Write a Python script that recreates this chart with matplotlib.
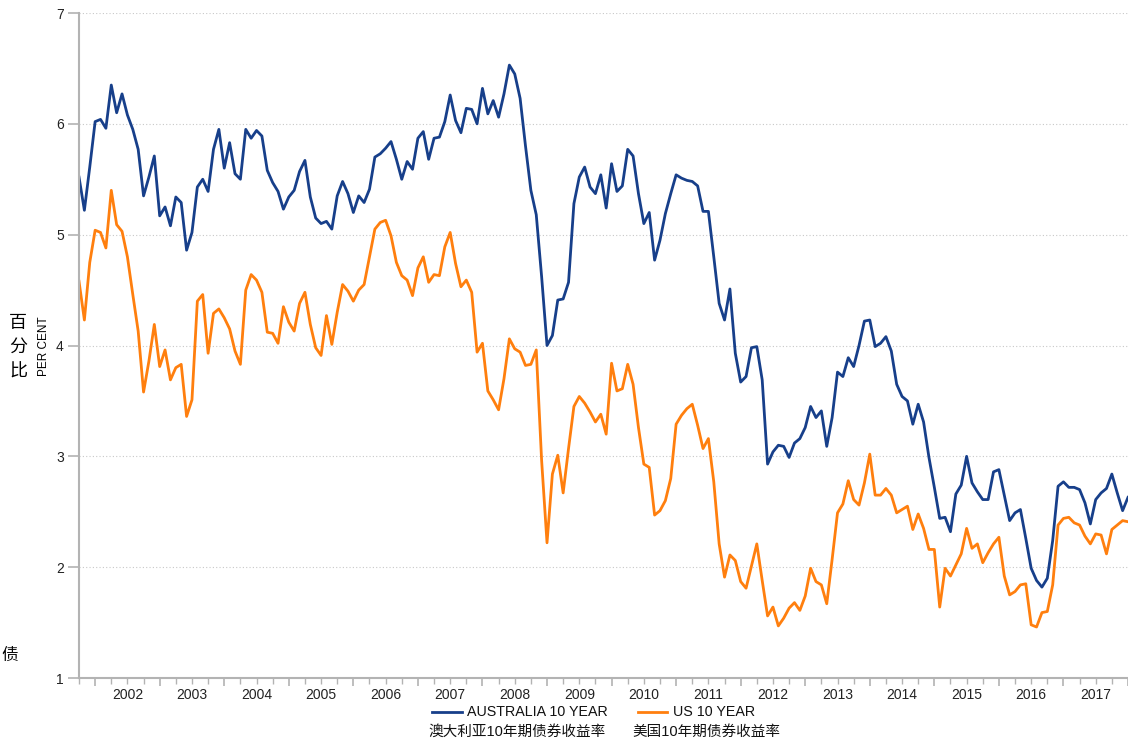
import matplotlib
matplotlib.use("Agg")
import matplotlib.pyplot as plt
import numpy as np
from matplotlib.lines import Line2D
from matplotlib.ticker import FixedLocator, FuncFormatter

plt.rcParams['font.family'] = ['Liberation Sans', 'Noto Sans CJK SC', 'DejaVu Sans']

# monthly 10 year bond yields, Oct 2001 onwards (per cent)
start = 2001.75
aus = [5.52, 5.22, 5.61, 6.02, 6.04, 5.96, 6.35, 6.10, 6.27, 6.08,
       5.95, 5.77, 5.35, 5.52, 5.71, 5.17, 5.25, 5.08, 5.34, 5.29,
       4.86, 5.02, 5.43, 5.50, 5.39, 5.77, 5.95, 5.60, 5.83, 5.55,
       5.50, 5.95, 5.87, 5.94, 5.89, 5.58, 5.47, 5.39, 5.23, 5.34,
       5.40, 5.57, 5.67, 5.34, 5.15, 5.10, 5.12, 5.05, 5.35, 5.48,
       5.37, 5.20, 5.35, 5.29, 5.41, 5.70, 5.73, 5.78, 5.84, 5.68,
       5.50, 5.66, 5.59, 5.87, 5.93, 5.68, 5.87, 5.88, 6.02, 6.26,
       6.03, 5.92, 6.14, 6.13, 6.00, 6.32, 6.09, 6.21, 6.06, 6.27,
       6.53, 6.45, 6.23, 5.80, 5.40, 5.18, 4.62, 4.00, 4.09, 4.41,
       4.42, 4.57, 5.28, 5.52, 5.61, 5.43, 5.37, 5.54, 5.24, 5.64,
       5.39, 5.44, 5.77, 5.71, 5.37, 5.10, 5.20, 4.77, 4.95, 5.19,
       5.37, 5.54, 5.51, 5.49, 5.48, 5.44, 5.21, 5.21, 4.80, 4.38,
       4.23, 4.51, 3.93, 3.67, 3.72, 3.98, 3.99, 3.69, 2.93, 3.04,
       3.10, 3.09, 2.99, 3.12, 3.16, 3.26, 3.45, 3.35, 3.41, 3.09,
       3.35, 3.76, 3.72, 3.89, 3.81, 4.00, 4.22, 4.23, 3.99, 4.02,
       4.08, 3.95, 3.65, 3.54, 3.50, 3.29, 3.47, 3.31, 2.99, 2.72,
       2.44, 2.45, 2.32, 2.66, 2.74, 3.00, 2.76, 2.68, 2.61, 2.61,
       2.86, 2.88, 2.65, 2.42, 2.49, 2.52, 2.26, 1.99, 1.88, 1.82,
       1.90, 2.24, 2.73, 2.77, 2.72, 2.72, 2.70, 2.58, 2.39, 2.61,
       2.67, 2.71, 2.84, 2.67, 2.51, 2.63]
us = [4.58, 4.23, 4.75, 5.04, 5.02, 4.88, 5.40, 5.09, 5.03, 4.80,
      4.46, 4.13, 3.58, 3.86, 4.19, 3.81, 3.96, 3.69, 3.80, 3.83,
      3.36, 3.51, 4.40, 4.46, 3.93, 4.29, 4.33, 4.25, 4.15, 3.95,
      3.83, 4.50, 4.64, 4.59, 4.48, 4.12, 4.11, 4.02, 4.35, 4.21,
      4.13, 4.38, 4.48, 4.19, 3.98, 3.91, 4.27, 4.01, 4.30, 4.55,
      4.49, 4.40, 4.50, 4.55, 4.80, 5.05, 5.11, 5.13, 4.99, 4.75,
      4.63, 4.59, 4.45, 4.70, 4.80, 4.57, 4.64, 4.63, 4.89, 5.02,
      4.74, 4.53, 4.59, 4.48, 3.94, 4.02, 3.59, 3.51, 3.42, 3.70,
      4.06, 3.97, 3.94, 3.82, 3.83, 3.96, 2.96, 2.22, 2.84, 3.01,
      2.67, 3.07, 3.45, 3.54, 3.48, 3.40, 3.31, 3.38, 3.20, 3.84,
      3.59, 3.61, 3.83, 3.65, 3.26, 2.93, 2.90, 2.47, 2.51, 2.60,
      2.80, 3.29, 3.37, 3.43, 3.47, 3.28, 3.07, 3.16, 2.77, 2.21,
      1.91, 2.11, 2.06, 1.87, 1.81, 2.01, 2.21, 1.88, 1.56, 1.64,
      1.47, 1.54, 1.63, 1.68, 1.61, 1.74, 1.99, 1.87, 1.84, 1.67,
      2.07, 2.49, 2.57, 2.78, 2.61, 2.56, 2.76, 3.02, 2.65, 2.65,
      2.71, 2.65, 2.49, 2.52, 2.55, 2.34, 2.48, 2.35, 2.16, 2.16,
      1.64, 1.99, 1.92, 2.02, 2.12, 2.35, 2.17, 2.21, 2.04, 2.13,
      2.21, 2.27, 1.92, 1.75, 1.78, 1.84, 1.85, 1.48, 1.46, 1.59,
      1.60, 1.84, 2.38, 2.44, 2.45, 2.40, 2.38, 2.28, 2.21, 2.30,
      2.29, 2.12, 2.34, 2.38, 2.42, 2.41]
years = list(range(2002, 2018))
series_en = ["AUSTRALIA 10 YEAR", "US 10 YEAR"]
series_zh = ["澳大利亚10年期债券收益率", "美国10年期债券收益率"]

x = start + np.arange(len(aus)) / 12

blue = "#173f8a"
orange = "#ff7f0e"
axis_grey = "#b3b3b3"

W, H = 1128, 738
fig = plt.figure(figsize=(W / 100, H / 100), dpi=100)
ax = fig.add_axes([79 / W, 60 / H, 1049 / W, 665 / H])

ax.plot(x, aus, color=blue, lw=2.0)
ax.plot(x, us, color=orange, lw=2.0)

ax.set_xlim(start, 2018.0)
ax.set_ylim(1, 7)

for s in ("top", "right"):
    ax.spines[s].set_visible(False)
for s in ("left", "bottom"):
    ax.spines[s].set_color(axis_grey)
    ax.spines[s].set_linewidth(1.5)

ax.set_yticks(range(1, 8))
ax.yaxis.grid(True, color="#c8c8c8", linestyle=(0, (1, 2)), linewidth=0.8)
ax.tick_params(axis="y", length=8, width=1.2, color=axis_grey, labelsize=10,
               labelcolor="#222222", pad=3)

# year boundaries as major ticks, quarters as minor ticks; year labels sit mid-year
ax.xaxis.set_major_locator(FixedLocator(years + [2018]))
ax.xaxis.set_major_formatter(FuncFormatter(lambda v, p: ""))
quarters = [2001.75] + [y + q for y in years for q in (0.25, 0.5, 0.75)]
ax.xaxis.set_minor_locator(FixedLocator(quarters))
ax.xaxis.set_minor_formatter(
    FuncFormatter(lambda v, p: str(int(v)) if abs(v % 1 - 0.5) < 1e-6 else ""))
ax.tick_params(axis="x", which="major", length=6, width=1.2, color=axis_grey)
ax.tick_params(axis="x", which="minor", length=4, width=1.0, color=axis_grey,
               labelsize=10, labelcolor="#222222", pad=3)

# axis titles
fig.text(18 / W, 1 - 347 / H, "百\n分\n比", fontsize=13, ha="center",
         va="center", linespacing=1.45, family=["Noto Sans CJK SC"])
fig.text(44 / W, 1 - 346 / H, "PER CENT", fontsize=8.5, rotation=90,
         ha="center", va="center")
fig.text(1 / W, 1 - 655 / H, "债", fontsize=12, ha="left", va="center",
         style="italic", family=["Noto Sans CJK SC"])

# legend drawn in figure pixels: sample line, English name, Chinese name below
legend_rows = [(432, 462, 467, 428, blue), (638, 667, 673, 632, orange)]
for (x0, x1, xt, xz, col), en, zh in zip(legend_rows, series_en, series_zh):
    fig.add_artist(Line2D([x0 / W, x1 / W], [1 - 712 / H, 1 - 712 / H],
                          color=col, lw=2.0, transform=fig.transFigure))
    fig.text(xt / W, 1 - 712 / H, en, fontsize=10.3, ha="left", va="center",
             color="#111111")
    fig.text(xz / W, 1 - 732 / H, zh, fontsize=10.5, ha="left", va="center",
             color="#111111")

fig.savefig("out.png", dpi=100)
